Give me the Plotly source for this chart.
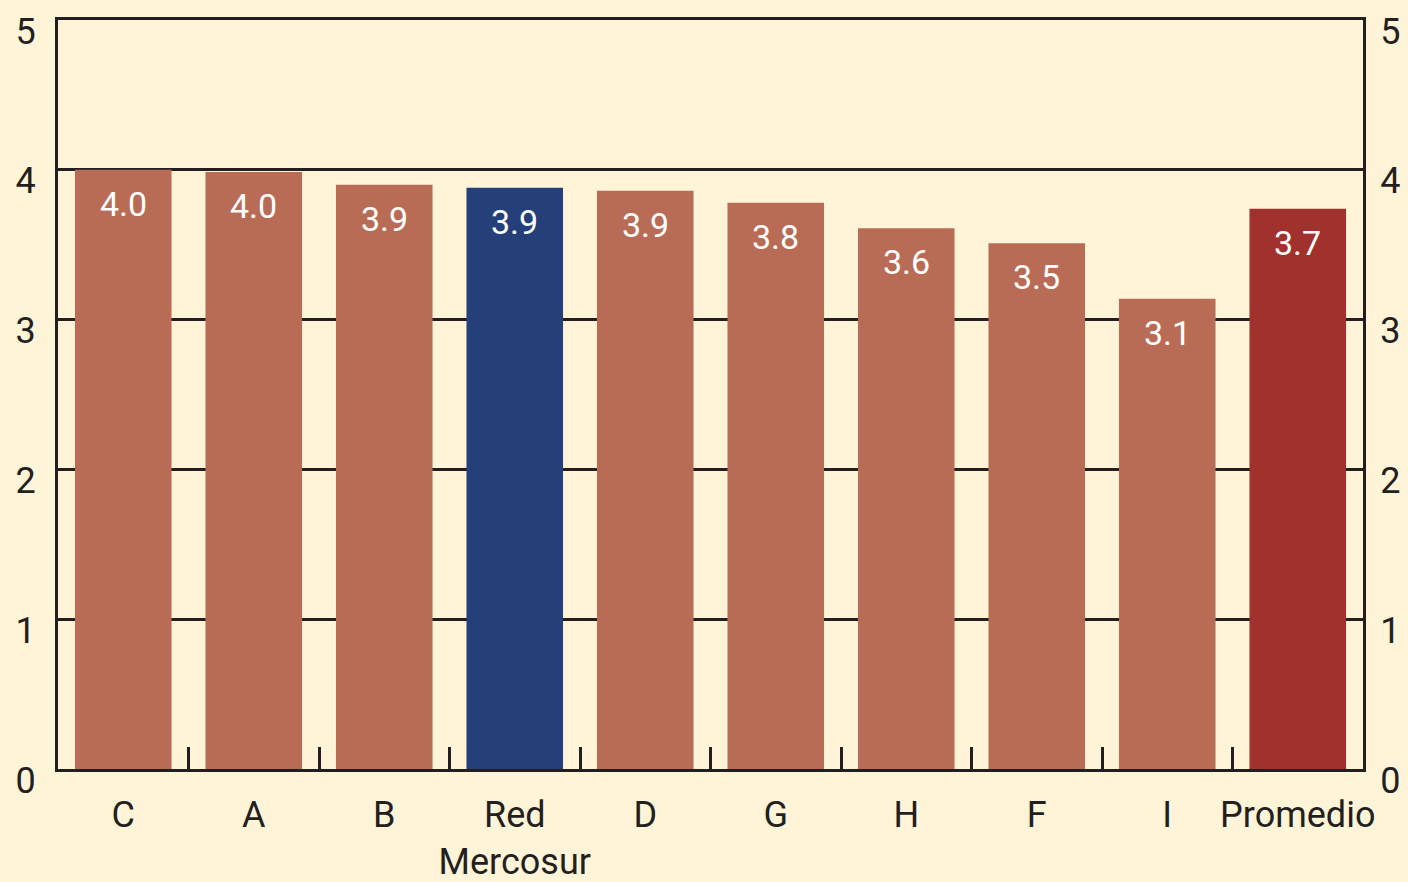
import plotly.graph_objects as go

categories = ["C", "A", "B", "Red<br>Mercosur", "D", "G", "H", "F", "I", "Promedio"]
values = [4.0, 3.985, 3.90, 3.88, 3.86, 3.78, 3.61, 3.51, 3.14, 3.74]
y_ticks = [0, 1, 2, 3, 4, 5]

BG = "#FFF4D8"
ORANGE = "#B96C55"
BLUE = "#253F78"
RED = "#A0312D"
INK = "#231F20"
FONT = "Roboto, sans-serif"

colors = [BLUE if c.startswith("Red") else (RED if c == "Promedio" else ORANGE) for c in categories]

fig = go.Figure()
fig.add_trace(go.Bar(x=categories, y=values, marker=dict(color=colors, line=dict(width=0)),
                     hoverinfo="skip"))
# invisible trace to activate right axis
fig.add_trace(go.Scatter(x=[categories[0]], y=[0], yaxis="y2", mode="markers",
                         marker=dict(opacity=0), hoverinfo="skip", showlegend=False))

for c, v in zip(categories, values):
    fig.add_annotation(x=c, y=v, text=f"{v:.1f}", showarrow=False, yanchor="top", yshift=-12,
                       font=dict(family=FONT, size=34, color="white"))

axis_common = dict(range=[0, 5.0005], tickvals=y_ticks, ticks="", showline=True, linecolor=INK,
                   linewidth=3, tickfont=dict(family=FONT, size=36, color=INK), zeroline=False,
                   ticklabelshift=11, automargin=False)

fig.update_layout(
    width=1408, height=882, showlegend=False, bargap=0.26,
    paper_bgcolor=BG, plot_bgcolor=BG,
    margin=dict(l=58, r=45, t=20, b=113, autoexpand=False),
    xaxis=dict(type="category", range=[-0.5, len(categories) - 0.5], showline=True,
               linecolor=INK, linewidth=3, mirror=True,
               ticks="inside", ticklen=22, tickwidth=3, tickcolor=INK, tickson="boundaries",
               showgrid=False, tickfont=dict(family=FONT, size=36, color=INK),
               tickangle=0, automargin=False, ticklabelstandoff=12),
    yaxis=dict(**axis_common, showgrid=True, gridcolor=INK, gridwidth=2.5, side="left",
               ticklabelstandoff=12),
    yaxis2=dict(**axis_common, overlaying="y", side="right", showgrid=False,
                ticklabelstandoff=7),
)

fig.write_html("out.html", config={"displayModeBar": False},
               post_script="document.body.style.margin='0';")
